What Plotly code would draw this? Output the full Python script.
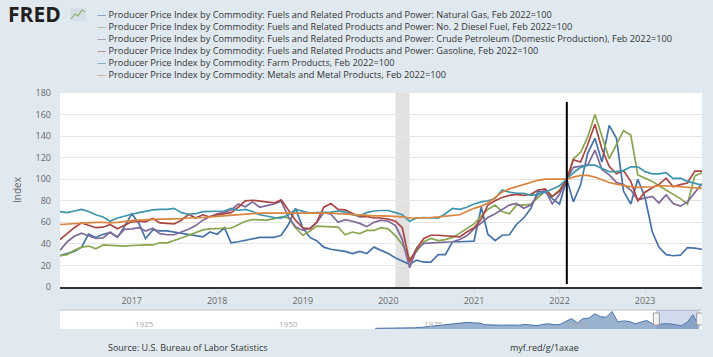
import pandas as pd
import plotly.graph_objects as go

# ---------------- data (index, Feb 2022 = 100), monthly Mar 2016 - Sep 2023 ----------------
start_month = "2016-03-01"

natural_gas = [29, 31, 33, 37, 49, 46, 49, 50.5, 46, 56,
               68, 59, 45, 53, 52, 52, 51, 50, 48.5, 47.5, 46.5, 51,
               49, 55, 41, 42, 43.5, 45, 46, 46, 46, 48, 58, 73,
               55, 46, 43, 37, 35, 34, 33, 31, 33, 31, 37, 34,
               31, 27, 24, 21, 25, 23, 23, 30, 30, 42, 42, 42,
               42.5, 74, 49, 43, 48, 48.5, 58, 64, 73, 89, 88, 82,
               77, 100, 79, 95, 124, 138, 116, 150, 138, 89, 77, 100,
               83, 51, 37, 30, 29, 29.5, 36.5, 36, 35]

diesel = [29, 30, 34, 37, 38, 35.5, 39, 38.5, 38, 38,
          38.5, 39, 39, 39, 41, 41, 43, 45.5, 48, 50.5, 53, 54,
          54.5, 54.5, 54.5, 58, 61, 62.5, 62, 62, 63.5, 65, 64, 55,
          48, 52, 56.5, 56, 56, 55.5, 48.5, 51, 49.5, 52.5, 52.5, 55,
          54, 47.5, 39.5, 26, 33, 42, 45, 43, 44, 46, 50, 54.5,
          58.5, 66, 72, 76, 70, 68, 76, 76, 77, 83, 89, 84,
          90, 100, 119, 125, 139, 160, 140, 119, 132, 145, 141, 104,
          101, 98, 94, 90, 86, 82, 77, 103, 106]

crude = [34, 42, 47, 50, 47.5, 45, 45.5, 51, 46.5, 53.5,
         54, 55, 52, 54.5, 49.5, 48.5, 48.5, 51, 53.5, 57, 62, 65.5,
         68, 69.5, 71.5, 77, 74.5, 79, 74, 75.5, 77, 79.5, 65, 56,
         52.5, 54.5, 59.5, 69, 67.5, 60, 62.5, 61, 59, 56, 60, 62,
         61, 57, 44, 18, 35, 40.5, 41, 41, 41.5, 42, 44, 47.5,
         54, 60, 64.5, 68, 72, 76, 77.5, 73, 76, 86, 90, 77,
         86, 100, 111, 112, 113, 127, 109, 104, 97, 95, 90, 81,
         82.5, 84, 78, 85.5, 77.5, 75, 79, 87, 96]

gasoline = [44, 50, 55, 59.5, 57, 55, 55.5, 58, 54, 57,
            60.5, 61, 60.5, 63.5, 59.5, 59, 58.5, 62, 67.5, 64, 67, 65,
            67, 68, 69, 74, 80, 80.5, 79.5, 78.5, 78, 81, 71, 62,
            55, 54, 60, 74, 77.5, 72, 71.5, 68, 65, 65.5, 64, 64,
            63, 61, 55, 23, 36, 45, 48, 48, 47.5, 47, 46.5, 51,
            55, 63, 76, 80, 83, 85, 86, 85, 86, 90, 91, 84,
            89, 100, 118, 116, 132, 151, 128, 112, 105, 108, 98, 80,
            88, 92, 95, 101, 93, 95, 96.5, 107.5, 107.5]

farm = [70, 69, 70.5, 72, 70, 67, 65, 61, 64, 66,
        67.5, 69, 70.5, 71.5, 72, 72, 73, 69, 67.5, 68, 70, 70,
        70, 70.5, 73, 71, 72, 70, 67, 65.5, 64.5, 64, 67, 72,
        70, 68.5, 69, 69, 69.5, 70.5, 69.5, 67, 66, 69, 70.5, 71,
        71, 69, 67, 61, 64, 64.5, 64.5, 64, 68, 73, 72, 74,
        77, 79, 80, 82, 90, 88, 87, 87, 85, 86, 88, 91,
        94, 100, 106, 111, 113, 113, 110, 107, 107, 108, 111.5, 111.5,
        107, 105, 105, 106, 100.5, 101, 98, 96.5, 94.5]

metals = [58, 58.5, 59, 59.5, 60, 60, 60, 59.5, 60, 61,
          61.5, 62, 62.5, 62.5, 63, 63, 63, 63.5, 64, 64, 64.5, 65,
          65.5, 66, 67, 67.5, 68, 68.5, 68.5, 68.5, 68.5, 68.5, 68.5, 69,
          69, 69, 69, 68.5, 68.5, 68, 67.5, 67, 67, 66.5, 66, 66,
          66, 65.5, 65, 64, 64, 64, 64.5, 65, 65.5, 66, 67, 70,
          73, 75, 78, 83, 88, 91, 93, 95, 97, 99, 100, 100,
          100, 100, 102, 103.5, 103.5, 102, 99.5, 97, 95.5, 94, 93, 92.5,
          92.5, 93, 94, 94, 93.5, 93, 92.5, 92, 91.5]

series_names = [
    "Producer Price Index by Commodity: Fuels and Related Products and Power: Natural Gas, Feb 2022=100",
    "Producer Price Index by Commodity: Fuels and Related Products and Power: No. 2 Diesel Fuel, Feb 2022=100",
    "Producer Price Index by Commodity: Fuels and Related Products and Power: Crude Petroleum (Domestic Production), Feb 2022=100",
    "Producer Price Index by Commodity: Fuels and Related Products and Power: Gasoline, Feb 2022=100",
    "Producer Price Index by Commodity: Farm Products, Feb 2022=100",
    "Producer Price Index by Commodity: Metals and Metal Products, Feb 2022=100",
]
series_values = [natural_gas, diesel, crude, gasoline, farm, metals]
series_colors = ["#4572a7", "#89a54e", "#80699b", "#aa4643", "#3d96ae", "#db843d"]

year_ticks = [2017, 2018, 2019, 2020, 2021, 2022, 2023]
y_ticks = [0, 20, 40, 60, 80, 100, 120, 140, 160, 180]

recession_start, recession_end = "2020-02-01", "2020-04-01"
base_month = "2022-02-01"

# navigator (full history of the first series, rough yearly reading)
nav_years = list(range(1967, 2024))
nav_values = [7, 7, 7, 8, 8, 9, 10, 13, 18, 25, 32, 38, 45, 55, 60, 68, 70, 65, 62,
              45, 42, 40, 40, 42, 38, 40, 48, 45, 35, 48, 55, 45, 48,
              80, 110, 65, 110, 115, 160, 130, 125, 185, 75, 85, 80, 55, 75, 90, 55,
              45, 55, 55, 45, 35, 70, 150, 40]
nav_tick_years = [1925, 1950, 1975, 2000]

# ---------------- layout helpers (pixel -> paper) ----------------
W, H = 713, 357
ML, MR, MT, MB = 60, 11, 93, 20
PW, PH = W - ML - MR, H - MT - MB


def px(x):
    return (x - ML) / PW


def py(y):
    return (H - MB - y) / PH


dates = pd.date_range(start_month, periods=len(natural_gas), freq="MS")

fig = go.Figure()
for name, vals, col in zip(series_names, series_values, series_colors):
    fig.add_trace(go.Scatter(x=dates, y=vals, mode="lines", name=name,
                             line=dict(color=col, width=1.7), showlegend=False,
                             xaxis="x", yaxis="y"))

nav_dates = pd.to_datetime([f"{y}-07-01" for y in nav_years])
fig.add_trace(go.Scatter(x=nav_dates, y=nav_values, mode="lines", fill="tozeroy",
                         line=dict(color="#4572a7", width=1),
                         fillcolor="rgba(69,114,167,0.55)", showlegend=False,
                         xaxis="x2", yaxis="y2", hoverinfo="skip"))

font_family = "Open Sans, Noto Sans, sans-serif"

fig.update_layout(
    width=W, height=H,
    margin=dict(l=ML, r=MR, t=MT, b=MB),
    paper_bgcolor="#e1e9f0",
    plot_bgcolor="#ffffff",
    font=dict(family=font_family, color="#333333", size=9),
    xaxis=dict(
        domain=[0, 1], anchor="y",
        range=[dates[0], dates[-1]],
        tickvals=[pd.Timestamp(f"{y}-01-01") for y in year_ticks],
        ticktext=[str(y) for y in year_ticks],
        showgrid=False, showline=True, linecolor="#333333", linewidth=2,
        ticks="outside", ticklen=4, tickcolor="#ccd6eb",
        tickfont=dict(size=9, color="#666666"),
        zeroline=False,
    ),
    yaxis=dict(
        domain=[py(287), 1], anchor="x",
        range=[0, 180], tickvals=y_ticks,
        showgrid=True, gridcolor="#e6e6e6", gridwidth=1,
        zeroline=False, showline=False,
        tickfont=dict(size=9, color="#666666"),
        ticklabelstandoff=8,
        title=dict(text="Index", font=dict(size=10, color="#666666"), standoff=12),
    ),
    xaxis2=dict(
        domain=[0, 1], anchor="y2",
        range=["1912-11-15", "2024-01-30"],
        showticklabels=False, showgrid=False, zeroline=False, showline=False, ticks="",
    ),
    yaxis2=dict(
        domain=[py(329), py(311)], anchor="x2",
        range=[0, 190], showticklabels=False, showgrid=False, zeroline=False, ticks="",
    ),
)

shapes = []
# recession shading
shapes.append(dict(type="rect", xref="x", yref="y domain", x0=recession_start, x1=recession_end,
                   y0=0, y1=1, fillcolor="#e1e1e1", line=dict(width=0), layer="below"))
# base-month marker line
shapes.append(dict(type="line", xref="x", yref="y domain", x0=base_month, x1=base_month,
                   y0=0.015, y1=0.954, line=dict(color="#000000", width=2)))
# navigator outline
shapes.append(dict(type="line", xref="paper", yref="paper", x0=0, x1=1, y0=py(310), y1=py(310),
                   line=dict(color="#cccccc", width=1)))
# navigator selected window
shapes.append(dict(type="rect", xref="x2", yref="paper", x0=dates[0], x1=dates[-1],
                   y0=py(329), y1=py(310), fillcolor="rgba(102,133,194,0.3)", line=dict(width=0)))
for d in (dates[0], dates[-1]):
    shapes.append(dict(type="rect", xref="x2", yref="paper", xsizemode="pixel", xanchor=d,
                       x0=-3, x1=3, y0=py(325), y1=py(313), fillcolor="#f2f2f2",
                       line=dict(color="#999999", width=1)))
# FRED logo icon
shapes.append(dict(type="rect", xref="paper", yref="paper", x0=px(70), x1=px(86), y0=py(21), y1=py(8),
                   fillcolor="#d5dfe8", line=dict(width=0)))
shapes.append(dict(type="path", xref="paper", yref="paper",
                   path=f"M {px(71)},{py(19)} L {px(75)},{py(14)} L {px(78)},{py(16)} L {px(82)},{py(10)} L {px(85)},{py(12)}",
                   line=dict(color="#8db36b", width=1.2)))
fig.update_layout(shapes=shapes)

annotations = []
annotations.append(dict(text="<b>FRED</b>", xref="paper", yref="paper", x=px(6), y=py(14),
                        xanchor="left", yanchor="middle", showarrow=False,
                        font=dict(size=21, color="#231f20", family="Open Sans, sans-serif")))
legend_lines = [f"<span style='color:{col}'>\u2014</span> {name}"
                for name, col in zip(series_names, series_colors)]
annotations.append(dict(text="<br>".join(legend_lines),
                        xref="paper", yref="paper", x=px(95), y=py(6),
                        xanchor="left", yanchor="top", align="left", showarrow=False,
                        font=dict(size=9.2, color="#333333")))
for yr in nav_tick_years:
    annotations.append(dict(text=str(yr), xref="x2", yref="paper", x=f"{yr}-01-01", y=py(323),
                            xanchor="left", xshift=3, yanchor="middle", showarrow=False,
                            font=dict(size=8, color="#aaaaaa")))
annotations.append(dict(text="Source: U.S. Bureau of Labor Statistics", xref="paper", yref="paper",
                        x=px(106), y=py(347), xanchor="left", yanchor="middle", showarrow=False,
                        font=dict(size=9, color="#333333")))
annotations.append(dict(text="myf.red/g/1axae", xref="paper", yref="paper",
                        x=px(508), y=py(347), xanchor="left", yanchor="middle", showarrow=False,
                        font=dict(size=9, color="#333333")))
fig.update_layout(annotations=annotations)

# remove the default 8px page margin so the figure fills the window exactly
fig.write_html("out.html", config={"displayModeBar": False},
               post_script="document.body.style.margin='0px';")
